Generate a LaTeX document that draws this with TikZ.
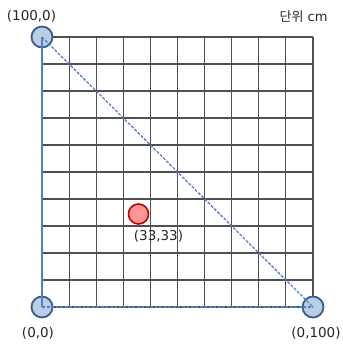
\documentclass[tikz,border=0pt]{standalone}
\usepackage{fontspec}
\setmainfont{DejaVu Sans}
\newfontfamily\kofont{Noto Sans CJK KR}
\definecolor{gridgray}{RGB}{80,80,80}
\definecolor{ptfill}{RGB}{185,205,229}
\definecolor{ptdraw}{RGB}{56,93,138}
\definecolor{redfill}{RGB}{255,150,150}
\definecolor{reddraw}{RGB}{192,0,0}
\definecolor{linkblue}{RGB}{79,129,189}
\usetikzlibrary{positioning}
\tikzset{
  gridline/.style={draw=gridgray,line width=1.1pt},
  corner/.style={circle,draw=ptdraw,fill=ptfill,line width=1.8pt,
                 minimum size=21pt,inner sep=0pt},
  target/.style={circle,draw=reddraw,fill=redfill,line width=1.6pt,
                 minimum size=20pt,inner sep=0pt},
  link/.style={draw=linkblue,line width=1.3pt},
  dashlink/.style={link,dash pattern=on 3pt off 1.5pt},
  lbl/.style={font=\fontsize{13.5}{15}\selectfont,text=black!85,inner sep=0pt},
  unit/.style={font=\fontsize{13}{15}\selectfont,text=black!85,inner sep=0pt},
}
\begin{document}
\begin{tikzpicture}[x=1pt,y=-1pt]
    \useasboundingbox (0,0) rectangle (342,344);
    % grid 10 x 10
    \foreach \i in {0,...,10} {
      \draw[gridline] (42+27.1*\i,37) -- (42+27.1*\i,307);
      \draw[gridline] (42,37+27*\i) -- (313,37+27*\i);
    }
    \node[corner] (p100) at (42,37) {};
    \node[corner] (p0) at (42,307) {};
    \node[corner] (p0100) at (313,307) {};
    \node[target] (q) at (138.5,214) {};
    \draw[link] (p0.center) -- (p100.center);
    \draw[dashlink] (p0.center) -- (p0100.center);
    \draw[dashlink] (p100.center) -- (p0100.center);
    \node[lbl] (l100) at (31.5,16) {(100,0)};
    \node[lbl] (l0) at (38,333) {(0,0)};
    \node[lbl] (l0100) at (316,333) {(0,100)};
    \node[lbl] (lq) at (158.5,236.5) {(33,33)};
    \node[unit] (u) at (303.5,16.5) {{\kofont 단위} cm};
  \end{tikzpicture}
\end{document}
